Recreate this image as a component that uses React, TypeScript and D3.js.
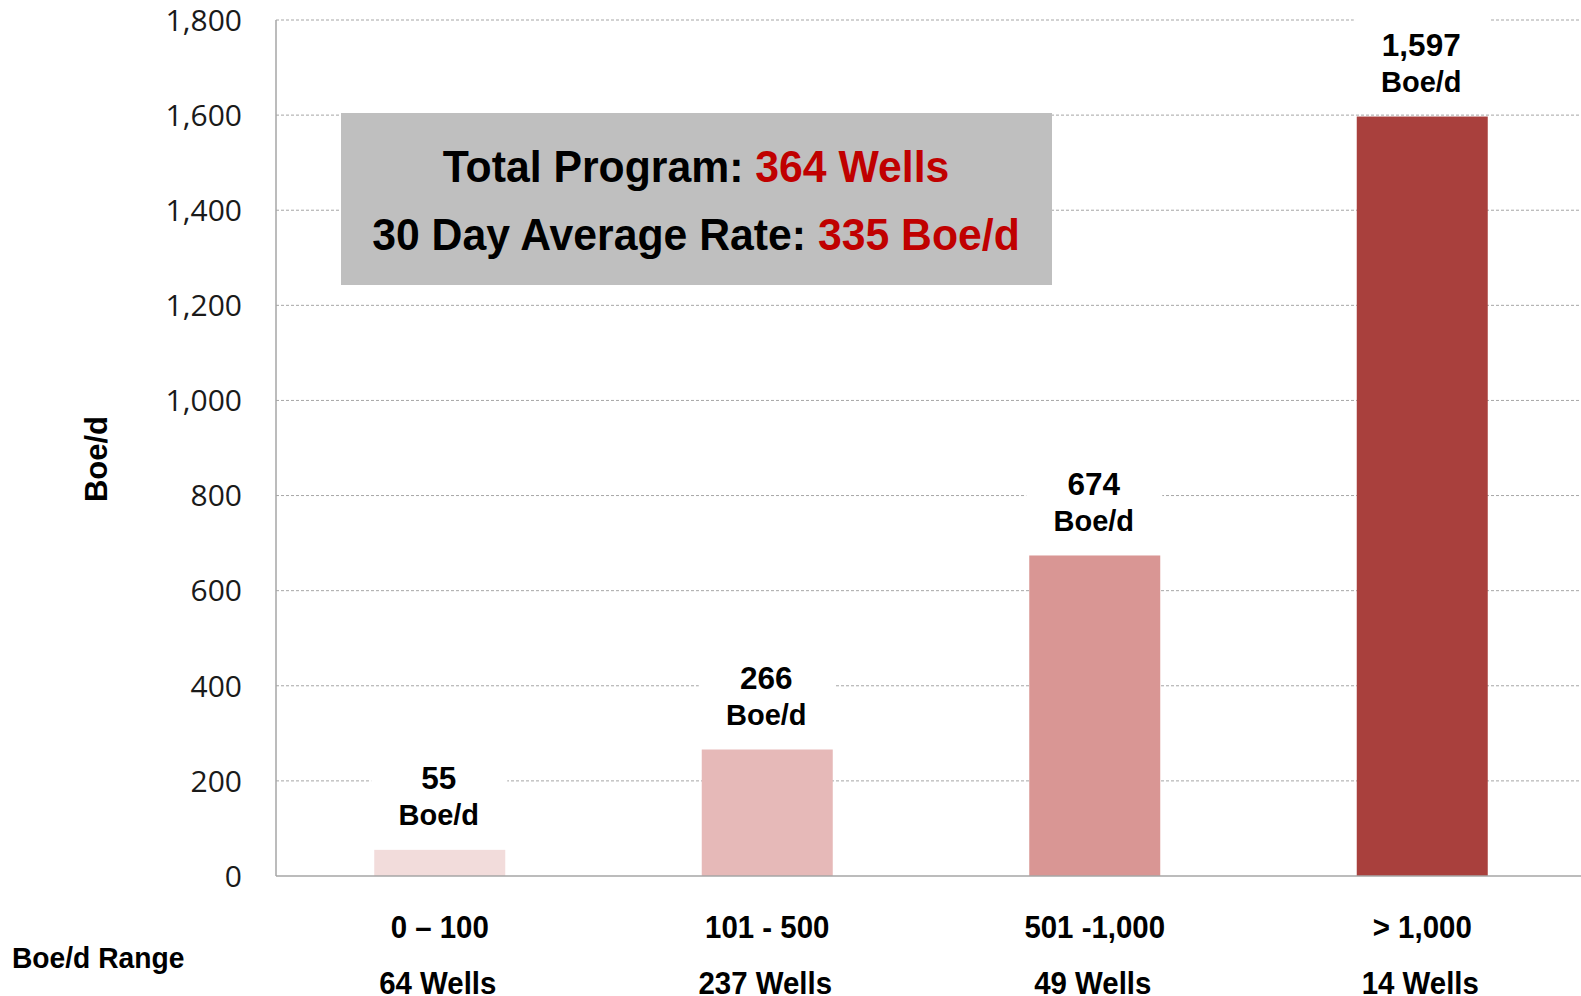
import * as d3 from "d3";

const ranges = ["0 – 100", "101 - 500", "501 -1,000", "> 1,000"];
const wells = ["64 Wells", "237 Wells", "49 Wells", "14 Wells"];
const rates = [55, 266, 674, 1597];
const rateLabels = ["55", "266", "674", "1,597"];
const yTicks = [0, 200, 400, 600, 800, 1000, 1200, 1400, 1600, 1800];
const barColors = ["#F2DCDB", "#E6B9B8", "#D99694", "#A9403D"];

const W = 1581;
const H = 996;
const LEFT = 276;
const RIGHT = 1586;
const TOP = 20;
const BOTTOM = 876;
const RED = "#C00000";
const GRID = "#A6A6A6";
const BOLD = "'Liberation Sans', Arial, sans-serif";

// bold label squeezed a little horizontally, like the original rendering
function Label({
  x,
  y,
  size,
  sx = 1,
  anchor = "middle",
  children,
}: {
  x: number;
  y: number;
  size: number;
  sx?: number;
  anchor?: string;
  children: React.ReactNode;
}) {
  return (
    <text
      transform={`translate(${x},${y}) scale(${sx},1)`}
      dy="0.36em"
      textAnchor={anchor}
      fontFamily={BOLD}
      fontWeight="bold"
      fontSize={size}
      fill="#000"
    >
      {children}
    </text>
  );
}

export default function App() {
  const x = d3
    .scaleBand<string>()
    .domain(ranges)
    .range([LEFT, RIGHT])
    .paddingInner(0.6)
    .paddingOuter(0.3);
  const y = d3.scaleLinear().domain([0, 1800]).range([BOTTOM, TOP]);
  const bw = x.bandwidth();

  return (
    <>
      <style>{`html,body{margin:0;overflow:hidden}`}</style>
      <svg width={W} height={H} style={{ display: "block", background: "#fff" }}>
        {/* gridlines */}
        {yTicks.slice(1).map((t) => (
          <line
            key={t}
            x1={LEFT}
            x2={W}
            y1={y(t)}
            y2={y(t)}
            stroke={GRID}
            strokeWidth={1}
            strokeDasharray="3 2"
          />
        ))}

        {/* tick labels */}
        {yTicks.map((t) => (
          <text
            key={t}
            x={242}
            y={y(t)}
            dy="0.36em"
            textAnchor="end"
            fontFamily="'Open Sans', sans-serif"
            fontSize={30}
            fill="#1a1a1a"
          >
            {d3.format(",")(t)}
          </text>
        ))}

        {/* bars */}
        {ranges.map((r, i) => (
          <rect
            key={r}
            x={x(r)}
            y={y(rates[i])}
            width={bw}
            height={BOTTOM - y(rates[i])}
            fill={barColors[i]}
          />
        ))}

        {/* value labels with white backing */}
        {ranges.map((r, i) => {
          const cx = x(r)! + bw / 2 - 1;
          const top = y(rates[i]);
          return (
            <g key={r}>
              <rect x={x(r)! - 3} y={top - 100} width={bw + 5} height={84} fill="#fff" />
              <Label x={cx} y={top - 72} size={31.5}>
                {rateLabels[i]}
              </Label>
              <Label x={cx} y={top - 35} size={29}>
                Boe/d
              </Label>
            </g>
          );
        })}

        {/* axes */}
        <line x1={LEFT} x2={LEFT} y1={TOP} y2={BOTTOM} stroke={GRID} strokeWidth={1.5} />
        <line x1={LEFT} x2={W} y1={BOTTOM} y2={BOTTOM} stroke={GRID} strokeWidth={1.5} />

        {/* category labels */}
        {ranges.map((r, i) => (
          <g key={r}>
            <Label x={x(r)! + bw / 2} y={926} size={32} sx={0.92}>
              {r}
            </Label>
            <Label x={x(r)! + bw / 2 - 2} y={982} size={32} sx={0.92}>
              {wells[i]}
            </Label>
          </g>
        ))}
        <Label x={12} y={957} size={30} sx={0.94} anchor="start">
          Boe/d Range
        </Label>

        {/* y title */}
        <text
          transform={`translate(96,459) rotate(-90)`}
          dy="0.36em"
          textAnchor="middle"
          fontFamily={BOLD}
          fontWeight="bold"
          fontSize={31}
        >
          Boe/d
        </text>

        {/* summary box */}
        <rect x={341} y={113} width={711} height={172} fill="#BFBFBF" />
        <Label x={696} y={166} size={45} sx={0.95}>
          Total Program: <tspan fill={RED}>364 Wells</tspan>
        </Label>
        <Label x={696} y={234} size={45} sx={0.95}>
          30 Day Average Rate: <tspan fill={RED}>335 Boe/d</tspan>
        </Label>
      </svg>
    </>
  );
}
